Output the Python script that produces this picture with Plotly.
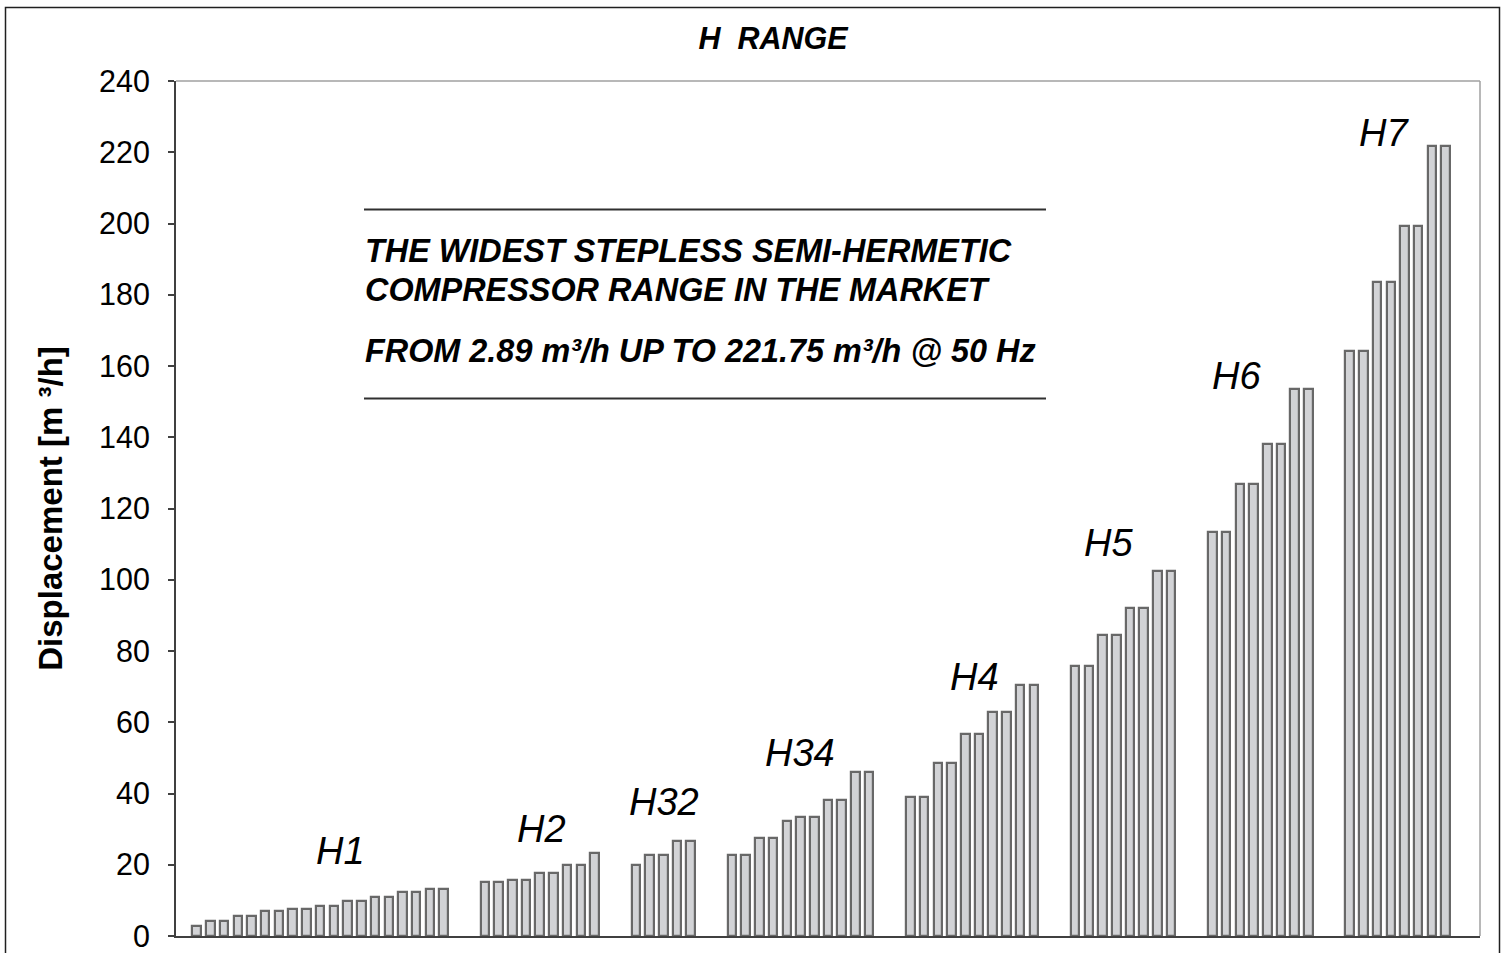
import plotly.graph_objects as go

# ---- data ----
group_names = ["H1", "H2", "H32", "H34", "H4", "H5", "H6", "H7"]
h1 = [2.89, 4.3, 4.3, 5.6, 5.6, 7.0, 7.0, 7.6, 7.6, 8.3, 8.3, 9.8, 9.8, 10.9, 10.9, 12.4, 12.4, 13.1, 13.1]
h2 = [15.1, 15.1, 15.8, 15.8, 17.8, 17.8, 19.9, 19.9, 23.2]
h32 = [19.9, 22.6, 22.6, 26.6, 26.6]
h34 = [22.6, 22.6, 27.5, 27.5, 32.2, 33.5, 33.5, 38.3, 38.3, 45.9, 45.9]
h4 = [39.0, 39.0, 48.5, 48.5, 56.7, 56.7, 62.9, 62.9, 70.4, 70.4]
h5 = [75.9, 75.9, 84.6, 84.6, 92.2, 92.2, 102.5, 102.5]
h6 = [113.5, 113.5, 127.0, 127.0, 138.0, 138.0, 153.6, 153.6]
h7 = [164.1, 164.1, 183.7, 183.7, 199.4, 199.4, 221.75, 221.75]
groups = [h1, h2, h32, h34, h4, h5, h6, h7]
y_ticks = [0, 20, 40, 60, 80, 100, 120, 140, 160, 180, 200, 220, 240]

title_text = "H  RANGE"
y_title = "Displacement [m ³/h]"
note_lines = ["THE WIDEST STEPLESS SEMI-HERMETIC",
              "COMPRESSOR RANGE IN THE MARKET",
              "FROM 2.89 m³/h UP TO 221.75 m³/h @ 50 Hz"]

# ---- layout of categories (one empty slot before, two between groups) ----
GAP = 2
xs, ys, label_x = [], [], []
pos = 1
for g in groups:
    label_x.append(pos + (len(g) - 1) / 2)
    for v in g:
        xs.append(pos)
        ys.append(v)
        pos += 1
    pos += GAP
n_slots = pos  # total slots incl. trailing gap

FONT = "Arial, 'Liberation Sans', sans-serif"
AX = "#404040"

fig = go.Figure()
fig.add_trace(go.Bar(
    x=xs, y=ys, width=0.62,
    marker=dict(color="#d2d3d6", line=dict(color="#686868", width=2.2)),
    hoverinfo="y",
))

# group labels
label_y = [23.9, 30.0, 37.7, 51.3, 72.8, 110.2, 157.2, 225.3]
label_shift = [1.45, 0.16, 0.07, -0.02, 0.14, -1.1, -1.75, -1.0]
for name, lx, ly, sh in zip(group_names, label_x, label_y, label_shift):
    fig.add_annotation(x=lx + sh, y=ly, text=name, showarrow=False,
                       xanchor="center", yanchor="middle",
                       font=dict(family=FONT, size=38, color="black", style="italic"))

# note block
note_y = [251.0, 290.0, 350.5]
for t, yy in zip(note_lines, note_y):
    fig.add_annotation(xref="paper", yref="paper", x=(363 - 176) / 1304,
                       y=(936 - yy) / 855, text="<b><i>" + t + "</i></b>",
                       showarrow=False, xanchor="left", yanchor="middle",
                       font=dict(family=FONT, size=32.4, color="black"))
for yy in [209.5, 398.5]:
    fig.add_shape(type="line", xref="paper", yref="paper",
                  x0=(364 - 176) / 1304, x1=(1046 - 176) / 1304,
                  y0=(936 - yy) / 855, y1=(936 - yy) / 855,
                  line=dict(color="#303030", width=2))

# plot-area top/right border (light gray) and outer chart border
fig.add_shape(type="line", xref="paper", yref="paper", x0=0, x1=1, y0=1, y1=1,
              line=dict(color="#a0a0a0", width=1.5))
fig.add_shape(type="line", xref="paper", yref="paper", x0=1, x1=1, y0=0, y1=1,
              line=dict(color="#a0a0a0", width=1.5))
fig.add_shape(type="rect", xref="paper", yref="paper",
              x0=(5.5 - 176) / 1304, x1=(1499.5 - 176) / 1304,
              y0=(936 - 980) / 855, y1=(936 - 7.5) / 855,
              line=dict(color="#202020", width=1.5), fillcolor="rgba(0,0,0,0)")

fig.update_layout(
    width=1503, height=953,
    margin=dict(l=176, r=23, t=81, b=17),
    paper_bgcolor="white", plot_bgcolor="white",
    showlegend=False,
    bargap=0,
    title=dict(text="<b><i>" + title_text + "</i></b>", x=773 / 1503,
               xanchor="center", y=1 - 38 / 953, yanchor="middle",
               font=dict(family=FONT, size=30.5, color="black")),
    xaxis=dict(range=[-0.5, n_slots - 0.5], showticklabels=False, ticks="",
               showgrid=False, zeroline=False, showline=True, linecolor=AX, linewidth=2),
    yaxis=dict(range=[0, 240], tickvals=y_ticks, ticks="outside", ticklen=6,
               tickcolor=AX, tickwidth=1.5, showgrid=False, zeroline=False,
               showline=True, linecolor=AX, linewidth=2,
               tickfont=dict(family=FONT, size=30.5, color="black"),
               ticklabelstandoff=12, ticklabeloverflow="allow",
               automargin=False,
               title=dict(text="<b>" + y_title + "</b>", standoff=26,
                          font=dict(family=FONT, size=33, color="black"))),
)

fig.write_html("out.html", config={"displayModeBar": False},
               post_script="document.body.style.margin='0';document.body.style.overflow='hidden';")
